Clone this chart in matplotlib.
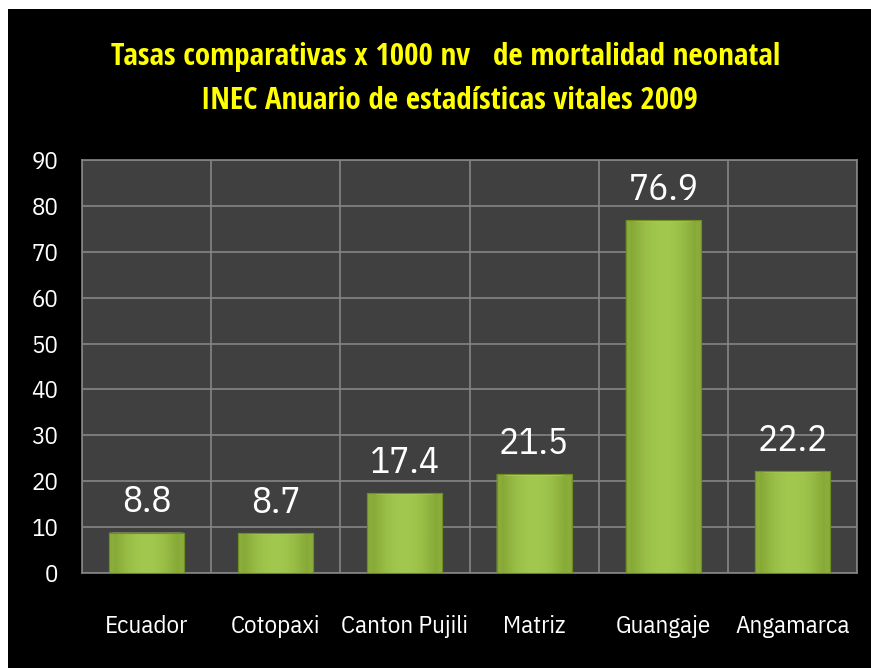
import matplotlib
matplotlib.use("Agg")
import matplotlib.pyplot as plt
import matplotlib.patches as patches
import numpy as np

categories = ["Ecuador", "Cotopaxi", "Canton Pujili", "Matriz", "Guangaje", "Angamarca"]
rates = [8.8, 8.7, 17.4, 21.5, 76.9, 22.2]
yticks = [0, 10, 20, 30, 40, 50, 60, 70, 80, 90]
title_lines = ["Tasas comparativas x 1000 nv   de mortalidad neonatal",
               "INEC Anuario de estadísticas vitales 2009"]

body_font = ['IBM Plex Sans Condensed', 'Carlito', 'Lato', 'DejaVu Sans']
title_font = ['Open Sans Condensed', 'Carlito', 'Lato', 'DejaVu Sans']
plt.rcParams['font.family'] = body_font

fig = plt.figure(figsize=(8.71, 6.68), dpi=100)
fig.patch.set_facecolor('white')
# black slide background (thin white strip on left and top)
fig.add_artist(patches.Rectangle((8 / 871, 0), 1, 1 - 9 / 668, transform=fig.transFigure,
                                 facecolor='black', edgecolor='none', zorder=0))

ax = fig.add_axes([82 / 871, 1 - 573 / 668, (857 - 82) / 871, (573 - 160) / 668])
ax.set_facecolor('#404040')

x = np.arange(len(categories))
width = 0.58
bars = ax.bar(x, rates, width=width, color='#9cc244', edgecolor='#6f8f22', linewidth=0.8, zorder=3)

# shading on each bar: horizontal gradient + top bevel
grad = np.array([[0.0, 0.6, 0.9, 1.0, 0.9, 0.6, 0.0]])
cmap = matplotlib.colors.LinearSegmentedColormap.from_list('g', ['#84a534', '#a3c94f'])
bev_h = 0.25
bev_w = 0.08
for b in bars:
    x0, w, h = b.get_x(), b.get_width(), b.get_height()
    im = ax.imshow(grad, extent=(x0, x0 + w, 0, h), aspect='auto', cmap=cmap,
                   interpolation='bicubic', zorder=3.5)
    im.set_clip_path(b)
    top = patches.Polygon([(x0, h), (x0 + w, h), (x0 + w - bev_w, h - bev_h), (x0 + bev_w, h - bev_h)],
                          closed=True, facecolor='#bde06e', edgecolor='none', zorder=4)
    ax.add_patch(top)
    left = patches.Polygon([(x0, 0), (x0, h), (x0 + bev_w * 0.5, h - bev_h), (x0 + bev_w * 0.5, 0)],
                           closed=True, facecolor='#8aac3a', edgecolor='none', zorder=4)
    right = patches.Polygon([(x0 + w, 0), (x0 + w, h), (x0 + w - bev_w * 0.5, h - bev_h), (x0 + w - bev_w * 0.5, 0)],
                            closed=True, facecolor='#8aac3a', edgecolor='none', zorder=4)
    ax.add_patch(left)
    ax.add_patch(right)
    ax.add_patch(patches.Rectangle((x0, 0), w, h, facecolor='none', edgecolor='#6f8f22',
                                   linewidth=0.8, zorder=4.5))

for xi, v in zip(x, rates):
    ax.annotate(f"{v}", (xi, v), xytext=(0, 22), textcoords='offset points',
                ha='center', va='center', color='white', fontsize=27, zorder=5)

ax.set_xlim(-0.5, len(categories) - 0.5)
ax.set_ylim(0, 90)
ax.set_yticks(yticks)
ax.set_xticks(x)
ax.set_xticklabels(categories)
ax.set_xticks(np.arange(len(categories) + 1) - 0.5, minor=True)
ax.tick_params(axis='both', which='both', length=0, colors='white', labelsize=18)
ax.tick_params(axis='x', pad=30)
ax.tick_params(axis='y', pad=17)
ax.grid(True, axis='y', which='major', color='#858585', linewidth=1.2, zorder=1)
ax.grid(True, axis='x', which='minor', color='#858585', linewidth=1.2, zorder=1)
ax.set_axisbelow(True)
for s in ax.spines.values():
    s.set_color('#858585')
    s.set_linewidth(1.2)

fig.text(446 / 871, 1 - 57 / 668, title_lines[0], ha='center', va='center',
         color='#ffff00', fontsize=22.3, fontweight='bold', family=title_font)
fig.text(449 / 871, 1 - 101 / 668, title_lines[1], ha='center', va='center',
         color='#ffff00', fontsize=22.3, fontweight='bold', family=title_font)

fig.savefig("out.png", dpi=100, facecolor=fig.get_facecolor())
